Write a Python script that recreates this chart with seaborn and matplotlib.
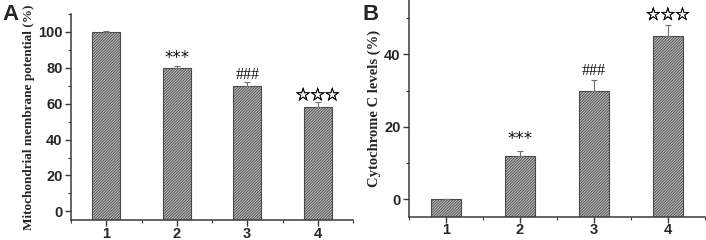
import matplotlib
matplotlib.use("Agg")
import matplotlib.pyplot as plt
import matplotlib.patheffects as pe
import seaborn as sns
import pandas as pd
from matplotlib.ticker import MultipleLocator

groups = [1, 2, 3, 4]
mmp_values = [100, 80, 70, 58]
mmp_err = [0.3, 1.2, 2.2, 3.0]
mmp_marks = ["", "***", "###", "☆☆☆"]
mmp_mark_y = [None, 85.5, 76.0, 64.5]

cytc_values = [0, 12, 30, 45]
cytc_err = [0.1, 1.4, 3.0, 3.0]
cytc_marks = ["", "***", "###", "☆☆☆"]
cytc_mark_y = [None, 16.5, 35.5, 50.8]

sns.set_style("ticks")
plt.rcParams["hatch.linewidth"] = 0.55

fig = plt.figure(figsize=(7.06, 2.40), dpi=100)
axA = fig.add_axes([0.1006, 0.082, 0.3994, 0.86])
axB = fig.add_axes([0.579, 0.095, 0.4195, 0.905])

spine_c = "#3a3a3a"
thick = [pe.withStroke(linewidth=0.3, foreground="black")]

def draw(ax, vals, errs, marks, mark_y, ylabel, ylsize, ylim, major, minor):
    df = pd.DataFrame({"g": groups, "v": vals})
    sns.barplot(data=df, x="g", y="v", native_scale=True, width=0.4,
                color="#b4b4b4", edgecolor="#4a4a4a", linewidth=0.8,
                hatch="////////////", errorbar=None, ax=ax)
    # bars start at the bottom of the axis, as in the original figure
    for p, v in zip(ax.patches, vals):
        p.set_y(ylim[0])
        p.set_height(v - ylim[0])
    ax.errorbar(groups, vals, yerr=[[0] * 4, errs], fmt="none",
                ecolor="#707070", elinewidth=0.8, capsize=2.0, capthick=0.8)
    for g, m, y in zip(groups, marks, mark_y):
        if not m:
            continue
        if m.startswith("☆"):
            ax.text(g, y, m, ha="center", va="center", fontsize=10.5,
                    family=["Noto Sans CJK SC", "DejaVu Sans"],
                    color="#000000", path_effects=thick)
        elif m.startswith("#"):
            ax.text(g, y, m, ha="center", va="center", fontsize=11.5,
                    family="Liberation Serif", color="#111111")
        else:
            ax.text(g, y, m, ha="center", va="center", fontsize=12,
                    family="DejaVu Sans", color="#111111")
    ax.set_xlim(0.5, 4.5)
    ax.set_ylim(*ylim)
    ax.set_xticks(groups)
    ax.set_xticklabels([str(g) for g in groups], fontsize=10.5,
                       fontweight="bold", family="Liberation Sans")
    ax.xaxis.set_minor_locator(MultipleLocator(0.5))
    ax.yaxis.set_major_locator(MultipleLocator(major))
    ax.yaxis.set_minor_locator(MultipleLocator(minor))
    for lab in ax.get_yticklabels():
        lab.set_fontsize(10.5)
        lab.set_fontweight("bold")
        lab.set_family("Liberation Sans")
    ax.set_xlabel("")
    ax.set_ylabel(ylabel, fontsize=ylsize, fontweight="bold",
                  family="Liberation Serif", labelpad=2)
    for s in ["top", "right"]:
        ax.spines[s].set_visible(False)
    for s in ["left", "bottom"]:
        ax.spines[s].set_color(spine_c)
        ax.spines[s].set_linewidth(1.1)
    ax.tick_params(which="major", length=4, width=1.0, color=spine_c,
                   direction="out", pad=2)
    ax.tick_params(axis="x", which="major", pad=0.5)
    ax.tick_params(which="minor", length=2.5, width=0.8, color=spine_c,
                   direction="out")

draw(axA, mmp_values, mmp_err, mmp_marks, mmp_mark_y,
     "Mitochondrial membrane potential (%)", 9.5, (-5, 110), 20, 10)
draw(axB, cytc_values, cytc_err, cytc_marks, cytc_mark_y,
     "Cytochrome C levels (%)", 10.5, (-5, 55), 20, 10)

fig.text(0.003, 0.985, "A", fontsize=16, fontweight="bold",
         family="Liberation Sans", va="top", ha="left")
fig.text(0.513, 0.985, "B", fontsize=16, fontweight="bold",
         family="Liberation Sans", va="top", ha="left")

fig.savefig("out.png", dpi=100)
